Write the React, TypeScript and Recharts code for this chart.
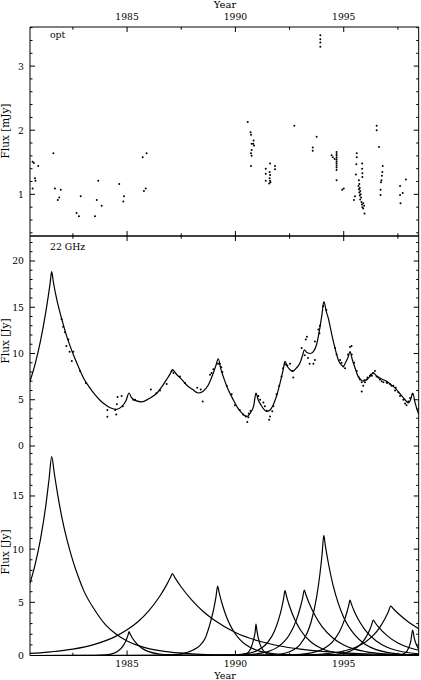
import React from "react";
import { ComposedChart, Line, Scatter, XAxis, YAxis } from "recharts";

const W = 421;
const H = 680;
const FONT = "'DejaVu Serif', 'Liberation Serif', serif";

const yearDomain = [1980.52, 1998.46];
const yearTicks = [1982.5, 1985, 1987.5, 1990, 1992.5, 1995, 1997.5];
const optTicks = [0.4, 0.6, 0.8, 1, 1.2, 1.4, 1.6, 1.8, 2, 2.2, 2.4, 2.6, 2.8, 3, 3.2, 3.4, 3.6];
const radioTicks = [0, 1, 2, 3, 4, 5, 6, 7, 8, 9, 10, 11, 12, 13, 14, 15, 16, 17, 18, 19, 20, 21, 22];
const flareTicks = [0, 1, 2, 3, 4, 5, 6, 7, 8, 9, 10, 11, 12, 13, 14, 15, 16, 17, 18, 19];

// optical flux [mJy]: [year, flux]
const optical = [
  [1980.64, 1.51], [1980.7, 1.49], [1980.9, 1.44], [1980.75, 1.25], [1980.77, 1.21], [1980.64, 1.09],
  [1981.6, 1.64], [1981.67, 1.09], [1981.94, 1.07], [1981.87, 0.95], [1981.8, 0.91],
  [1982.67, 0.71], [1982.78, 0.66], [1982.86, 0.97], [1983.52, 0.66], [1983.6, 0.91],
  [1983.67, 1.21], [1983.83, 0.82], [1984.64, 1.16], [1984.86, 0.97], [1984.83, 0.89],
  [1985.72, 1.58], [1985.9, 1.64], [1985.78, 1.05], [1985.86, 1.09],
  [1990.57, 2.13], [1990.7, 1.97], [1990.72, 1.93], [1990.75, 1.79], [1990.75, 1.69], [1990.72, 1.64],
  [1990.75, 1.6], [1990.72, 1.44], [1990.84, 1.84], [1990.82, 1.79], [1990.86, 1.76],
  [1991.4, 1.4], [1991.4, 1.32], [1991.4, 1.21], [1991.6, 1.48], [1991.58, 1.35], [1991.6, 1.3],
  [1991.58, 1.25], [1991.6, 1.21], [1991.62, 1.19], [1991.56, 1.17], [1991.83, 1.44], [1991.83, 1.39],
  [1992.72, 2.07], [1993.57, 1.73], [1993.57, 1.68], [1993.75, 1.9],
  [1993.92, 3.48], [1993.92, 3.42], [1993.92, 3.37], [1993.92, 3.3],
  [1994.44, 1.61], [1994.5, 1.58], [1994.58, 1.55], [1994.67, 1.66], [1994.67, 1.63], [1994.67, 1.6],
  [1994.67, 1.57], [1994.67, 1.54], [1994.67, 1.51], [1994.67, 1.48], [1994.67, 1.45], [1994.67, 1.42],
  [1994.67, 1.38], [1994.67, 1.22], [1994.93, 1.07], [1995.0, 1.09],
  [1995.47, 0.91], [1995.52, 0.97], [1995.6, 1.64], [1995.6, 1.58], [1995.58, 1.47], [1995.56, 1.31],
  [1995.7, 1.22], [1995.72, 1.16], [1995.74, 1.1], [1995.76, 1.05], [1995.78, 1.0], [1995.68, 1.13],
  [1995.7, 1.08], [1995.72, 1.03], [1995.74, 0.98], [1995.8, 0.95], [1995.76, 0.92], [1995.82, 0.88],
  [1995.84, 0.84], [1995.86, 0.8], [1995.9, 0.78], [1995.96, 0.7], [1995.85, 1.48], [1995.85, 1.4],
  [1995.86, 1.33], [1995.86, 1.27], [1995.9, 0.86], [1995.94, 0.82],
  [1996.52, 2.07], [1996.52, 2.0], [1996.63, 1.74], [1996.8, 1.44], [1996.78, 1.35], [1996.76, 1.29],
  [1996.74, 1.22], [1996.72, 1.19], [1996.7, 1.07], [1996.7, 0.99],
  [1997.6, 1.13], [1997.6, 0.99], [1997.62, 0.86], [1997.72, 1.02], [1997.87, 1.23],
];

// 22 GHz measurements [Jy]
const radio = [
  [1981.98, 13.7], [1982.05, 12.9], [1982.13, 12.3], [1982.29, 11.5], [1982.2, 10.8], [1982.35, 10.2],
  [1982.52, 10.2], [1982.45, 9.2], [1982.83, 8.1], [1983.1, 6.8],
  [1984.09, 3.9], [1984.09, 3.15], [1984.45, 3.9], [1984.5, 3.4], [1984.53, 4.5], [1984.56, 5.3],
  [1984.75, 5.4], [1984.8, 4.3], [1985.29, 5.0], [1985.37, 5.0],
  [1986.1, 6.1], [1986.35, 5.7], [1986.52, 6.0], [1986.83, 6.7], [1987.06, 8.1], [1987.14, 7.9],
  [1987.44, 7.5], [1987.67, 6.8], [1988.24, 6.3], [1988.4, 6.1], [1988.49, 4.8],
  [1988.83, 7.7], [1988.9, 7.9], [1988.98, 8.3], [1989.2, 8.9], [1989.28, 8.9], [1989.35, 8.5],
  [1989.4, 8.0], [1989.6, 6.5], [1989.83, 5.6], [1989.98, 4.4],
  [1990.2, 3.9], [1990.36, 3.4], [1990.48, 3.2], [1990.55, 2.6], [1990.6, 3.1], [1990.62, 3.5],
  [1990.7, 3.8], [1990.95, 5.6], [1991.06, 5.4], [1991.14, 5.0], [1991.29, 4.7], [1991.36, 4.3],
  [1991.44, 3.8], [1991.56, 2.85], [1991.6, 3.2], [1991.7, 3.75], [1991.75, 4.3], [1991.9, 5.6],
  [1992.02, 6.5], [1992.13, 7.5], [1992.2, 8.4], [1992.29, 8.8], [1992.4, 8.7], [1992.52, 8.9],
  [1992.64, 8.1], [1992.67, 7.4],
  [1993.06, 10.6], [1993.25, 11.5], [1993.3, 11.8], [1993.2, 9.8], [1993.35, 9.5], [1993.43, 8.9],
  [1993.6, 8.9], [1993.67, 9.3], [1993.67, 11.3], [1993.83, 12.6], [1993.9, 13.0], [1993.88, 12.2],
  [1994.05, 15.1], [1994.2, 14.7],
  [1994.6, 10.6], [1994.67, 9.9], [1994.83, 9.3], [1994.9, 9.0], [1994.98, 8.6], [1995.06, 8.4],
  [1995.2, 9.9], [1995.29, 10.7], [1995.36, 10.8], [1995.37, 9.9], [1995.48, 9.0], [1995.6, 8.1],
  [1995.7, 7.4], [1995.75, 7.2], [1995.83, 6.9], [1995.9, 6.5], [1995.83, 5.9], [1995.95, 7.1],
  [1995.98, 6.9], [1996.06, 7.2], [1996.1, 7.4], [1996.21, 7.6], [1996.25, 7.7], [1996.3, 7.6],
  [1996.36, 7.9], [1996.44, 8.1], [1996.52, 7.5], [1996.6, 7.4], [1996.67, 7.2], [1996.75, 7.0],
  [1996.83, 6.9], [1996.98, 6.9], [1997.0, 6.8], [1997.13, 6.7], [1997.2, 6.5], [1997.29, 6.5],
  [1997.37, 6.0], [1997.4, 6.3], [1997.52, 5.8], [1997.6, 5.4], [1997.75, 5.0], [1997.83, 4.6],
  [1997.9, 4.4], [1997.98, 4.8], [1998.06, 5.2], [1998.18, 5.6],
];

// model sum at 22 GHz
const radioFit = [
  [1980.52, 7.0], [1980.75, 8.8], [1981.0, 11.3], [1981.25, 14.5], [1981.45, 17.6], [1981.52, 18.85],
  [1981.6, 17.7], [1981.75, 15.9], [1982.0, 13.6], [1982.25, 11.6], [1982.5, 10.0], [1982.75, 8.6],
  [1983.0, 7.3], [1983.25, 6.4], [1983.5, 5.6], [1983.75, 4.95], [1984.0, 4.45], [1984.25, 4.1],
  [1984.5, 3.95], [1984.75, 4.25], [1984.95, 4.9], [1985.09, 5.73], [1985.2, 5.25], [1985.4, 4.9],
  [1985.67, 4.77], [1986.0, 5.1], [1986.37, 5.7], [1986.6, 6.4], [1986.83, 7.2], [1987.0, 7.85],
  [1987.09, 8.25], [1987.3, 7.7], [1987.52, 7.2], [1987.75, 6.6], [1988.0, 6.15], [1988.29, 5.73],
  [1988.5, 5.9], [1988.75, 6.6], [1988.95, 7.7], [1989.1, 8.7], [1989.21, 9.43], [1989.32, 8.4],
  [1989.44, 7.5], [1989.65, 6.2], [1989.9, 5.0], [1990.1, 4.15], [1990.3, 3.55], [1990.52, 3.2],
  [1990.7, 3.6], [1990.85, 4.4], [1990.95, 5.73], [1991.05, 5.0], [1991.2, 4.35], [1991.44, 3.75],
  [1991.6, 3.9], [1991.75, 4.47], [1991.9, 5.4], [1992.06, 6.8], [1992.2, 8.2], [1992.29, 9.14],
  [1992.4, 8.6], [1992.52, 8.25], [1992.65, 8.1], [1992.8, 8.4], [1992.98, 8.97], [1993.1, 9.8],
  [1993.18, 10.4], [1993.3, 10.1], [1993.45, 10.0], [1993.6, 10.2], [1993.75, 11.0], [1993.9, 12.8],
  [1994.0, 14.3], [1994.08, 15.6], [1994.2, 14.5], [1994.29, 13.8], [1994.4, 12.6], [1994.52, 11.3],
  [1994.65, 10.1], [1994.75, 9.3], [1994.88, 8.8], [1994.98, 8.6], [1995.1, 9.1], [1995.2, 9.6],
  [1995.29, 10.2], [1995.4, 9.3], [1995.5, 8.6], [1995.67, 7.5], [1995.8, 7.15], [1995.9, 7.0],
  [1996.05, 7.15], [1996.2, 7.5], [1996.36, 7.9], [1996.5, 7.6], [1996.7, 7.3], [1996.98, 7.0],
  [1997.2, 6.6], [1997.44, 6.1], [1997.65, 5.5], [1997.83, 5.0], [1997.98, 4.65], [1998.1, 5.1],
  [1998.18, 5.73], [1998.3, 4.6], [1998.46, 3.4],
];

// individual flare components [Jy]
const flare1 = [
  [1980.52, 6.8], [1980.75, 8.5], [1981.0, 10.9], [1981.25, 14.1], [1981.4, 16.6], [1981.52, 18.7],
  [1981.65, 17.0], [1981.8, 15.1], [1982.0, 12.9], [1982.25, 10.7], [1982.5, 8.9], [1982.75, 7.4],
  [1983.0, 6.1], [1983.5, 4.3], [1984.0, 2.9], [1984.5, 2.0], [1985.0, 1.37], [1985.5, 0.95],
  [1986.0, 0.65], [1986.5, 0.45], [1987.0, 0.31], [1988.0, 0.15], [1989.0, 0.07], [1990.0, 0.03],
  [1992.0, 0.01], [1998.46, 0],
];
const flare2 = [
  [1980.52, 0], [1983.0, 0.01], [1983.5, 0.02], [1984.0, 0.06], [1984.37, 0.2], [1984.6, 0.45],
  [1984.8, 0.85], [1984.95, 1.4], [1985.04, 1.9], [1985.09, 2.24], [1985.15, 1.99], [1985.25, 1.62],
  [1985.5, 1.0], [1985.75, 0.6], [1986.0, 0.36], [1986.5, 0.14], [1987.0, 0.05], [1988.0, 0.01],
  [1998.46, 0],
];
const flare3 = [
  [1980.52, 0.2], [1981.5, 0.35], [1982.5, 0.6], [1983.5, 1.05], [1984.5, 1.82], [1985.0, 2.41],
  [1985.5, 3.18], [1986.0, 4.2], [1986.5, 5.55], [1986.8, 6.55], [1987.0, 7.33], [1987.09, 7.7],
  [1987.2, 7.34], [1987.5, 6.44], [1988.0, 5.18], [1988.5, 4.16], [1989.0, 3.36], [1990.0, 2.17],
  [1991.0, 1.41], [1992.0, 0.92], [1993.0, 0.6], [1994.0, 0.38], [1995.0, 0.25], [1996.0, 0.16],
  [1997.0, 0.1], [1998.46, 0.05],
];
const flare4 = [
  [1980.52, 0], [1986.0, 0.005], [1987.0, 0.05], [1987.5, 0.16], [1988.0, 0.47], [1988.37, 0.96],
  [1988.6, 1.6], [1988.83, 3.0], [1989.0, 4.38], [1989.1, 5.47], [1989.18, 6.53], [1989.25, 5.91],
  [1989.4, 4.77], [1989.6, 3.58], [1989.9, 2.33], [1990.2, 1.52], [1990.5, 0.99], [1991.0, 0.48],
  [1991.5, 0.24], [1992.0, 0.12], [1993.0, 0.03], [1994.0, 0.01], [1998.46, 0],
];
const flare5 = [
  [1980.52, 0], [1989.5, 0.005], [1990.0, 0.01], [1990.5, 0.18], [1990.7, 0.62], [1990.85, 1.58],
  [1990.91, 2.2], [1990.95, 2.96], [1991.0, 2.24], [1991.1, 1.29], [1991.25, 0.56], [1991.5, 0.14],
  [1992.0, 0.01], [1998.46, 0],
];
const flare6 = [
  [1980.52, 0], [1988.0, 0.001], [1989.0, 0.008], [1990.0, 0.06], [1990.5, 0.17], [1991.0, 0.46],
  [1991.5, 1.25], [1991.8, 2.29], [1992.0, 3.42], [1992.15, 4.6], [1992.22, 5.3], [1992.29, 6.1],
  [1992.36, 5.56], [1992.5, 4.63], [1992.75, 3.33], [1993.0, 2.4], [1993.5, 1.24], [1994.0, 0.64],
  [1994.5, 0.33], [1995.0, 0.17], [1996.0, 0.05], [1997.0, 0.01], [1998.46, 0],
];
const flare7 = [
  [1980.52, 0], [1989.0, 0.006], [1990.0, 0.03], [1990.5, 0.07], [1991.0, 0.16], [1991.5, 0.37],
  [1992.0, 0.86], [1992.5, 1.98], [1992.8, 3.26], [1993.0, 4.56], [1993.1, 5.38], [1993.18, 6.15],
  [1993.25, 5.73], [1993.4, 4.93], [1993.7, 3.66], [1994.0, 2.71], [1994.5, 1.64], [1995.0, 0.99],
  [1995.5, 0.6], [1996.0, 0.37], [1997.0, 0.135], [1998.0, 0.05], [1998.46, 0.03],
];
const flare8 = [
  [1980.52, 0], [1990.0, 0.002], [1991.0, 0.014], [1992.0, 0.12], [1992.5, 0.36], [1993.0, 1.08],
  [1993.3, 2.07], [1993.5, 3.2], [1993.75, 5.52], [1993.9, 7.64], [1994.0, 9.5], [1994.08, 11.3],
  [1994.15, 10.35], [1994.3, 8.58], [1994.5, 6.67], [1994.75, 4.9], [1995.0, 3.58], [1995.5, 1.96],
  [1996.0, 1.03], [1996.5, 0.55], [1997.0, 0.29], [1997.5, 0.15], [1998.0, 0.08], [1998.46, 0.05],
];
const flare9 = [
  [1980.52, 0], [1991.0, 0.003], [1992.0, 0.018], [1993.0, 0.1], [1993.5, 0.24], [1994.0, 0.56],
  [1994.5, 1.33], [1994.8, 2.23], [1995.0, 3.16], [1995.15, 4.09], [1995.22, 4.61], [1995.29, 5.2],
  [1995.36, 4.81], [1995.5, 4.1], [1995.75, 3.12], [1996.0, 2.36], [1996.5, 1.36], [1997.0, 0.78],
  [1997.5, 0.45], [1998.0, 0.26], [1998.46, 0.15],
];
const flare10 = [
  [1980.52, 0], [1992.0, 0.001], [1993.0, 0.005], [1994.0, 0.03], [1994.5, 0.08], [1995.0, 0.22],
  [1995.5, 0.6], [1995.8, 1.09], [1996.0, 1.63], [1996.2, 2.42], [1996.29, 2.9], [1996.36, 3.34],
  [1996.45, 3.08], [1996.6, 2.69], [1997.0, 1.87], [1997.5, 1.18], [1998.0, 0.75], [1998.46, 0.49],
];
const flare11 = [
  [1980.52, 0], [1990.0, 0.002], [1992.0, 0.015], [1993.0, 0.045], [1994.0, 0.14], [1995.0, 0.42],
  [1995.5, 0.73], [1996.0, 1.27], [1996.36, 1.89], [1996.6, 2.46], [1996.9, 3.46], [1997.05, 4.07],
  [1997.17, 4.65], [1997.3, 4.37], [1997.5, 3.97], [1998.0, 3.13], [1998.46, 2.52],
];
const flare12 = [
  [1980.52, 0], [1996.0, 0], [1997.0, 0.001], [1997.5, 0.026], [1997.8, 0.19], [1998.0, 0.73],
  [1998.1, 1.41], [1998.18, 2.4], [1998.25, 1.69], [1998.35, 1.03], [1998.46, 0.59],
];
const flares = [flare1, flare2, flare3, flare4, flare5, flare6, flare7, flare8, flare9, flare10, flare11, flare12];

const pts = (arr: number[][]) => arr.map(([x, y]) => ({ x, y }));

const onStep = (v: number, step: number) => Math.abs(v / step - Math.round(v / step)) < 1e-6;

function XTick(props: any) {
  const { x, y, payload, dir, label } = props;
  const v = payload.value;
  const major = onStep(v, 5);
  const len = major ? 5 : 2.7;
  return (
    <g>
      <line x1={x} x2={x} y1={y} y2={y + dir * len} stroke="#000" strokeWidth={1} />
      {label && major ? (
        <text
          x={x}
          y={label === "top" ? y - 7 : y + 11.3}
          textAnchor="middle"
          fontSize={9.2}
          fontFamily={FONT}
          fill="#000"
        >
          {v}
        </text>
      ) : null}
    </g>
  );
}

function YTick(props: any) {
  const { x, y, payload, side, step } = props;
  const v = payload.value;
  const major = onStep(v, step);
  const len = major ? 5 : 2.5;
  const dir = side === "l" ? 1 : -1;
  return (
    <g>
      <line x1={x} x2={x + dir * len} y1={y} y2={y} stroke="#000" strokeWidth={1} />
      {side === "l" && major ? (
        <text x={x - 6} y={y + 3.4} textAnchor="end" fontSize={9.3} fontFamily={FONT} fill="#000">
          {Math.round(v)}
        </text>
      ) : null}
    </g>
  );
}

type PanelProps = {
  top: number;
  bottom: number;
  yDomain: number[];
  yTicks: number[];
  yStep: number;
  topAxis: "none" | "ticks" | "labels";
  bottomAxis: "none" | "ticks" | "labels";
  children: React.ReactNode;
};

// axes get a 1px band (a zero-size axis is not drawn), margins absorb it
function Panel({ top, bottom, yDomain, yTicks, yStep, topAxis, bottomAxis, children }: PanelProps) {
  const mTop = top - (topAxis === "none" ? 0 : 1);
  const mBottom = H - bottom - (bottomAxis === "none" ? 0 : 1);
  return (
    <div style={{ position: "absolute", left: 0, top: 0 }}>
      <ComposedChart width={W} height={H} margin={{ top: mTop, bottom: mBottom, left: 29, right: 1.3 }}>
        <XAxis
          xAxisId="t"
          orientation="top"
          type="number"
          dataKey="x"
          domain={yearDomain}
          ticks={yearTicks}
          interval={0}
          height={1}
          tickSize={0}
          tickMargin={0}
          tickLine={false}
          allowDataOverflow
          hide={topAxis === "none"}
          axisLine={{ stroke: "#000", strokeWidth: 1 }}
          tick={(p: any) => <XTick {...p} dir={1} label={topAxis === "labels" ? "top" : null} />}
        />
        <XAxis
          xAxisId="b"
          orientation="bottom"
          type="number"
          dataKey="x"
          domain={yearDomain}
          ticks={yearTicks}
          interval={0}
          height={1}
          tickSize={0}
          tickMargin={0}
          tickLine={false}
          allowDataOverflow
          hide={bottomAxis === "none"}
          axisLine={{ stroke: "#000", strokeWidth: 1 }}
          tick={(p: any) => <XTick {...p} dir={-1} label={bottomAxis === "labels" ? "bottom" : null} />}
        />
        <YAxis
          yAxisId="l"
          type="number"
          domain={yDomain}
          ticks={yTicks}
          interval={0}
          width={1}
          tickSize={0}
          tickMargin={0}
          tickLine={false}
          allowDataOverflow
          axisLine={{ stroke: "#000", strokeWidth: 1 }}
          tick={(p: any) => <YTick {...p} side="l" step={yStep} />}
        />
        <YAxis
          yAxisId="r"
          orientation="right"
          type="number"
          domain={yDomain}
          ticks={yTicks}
          interval={0}
          width={1}
          tickSize={0}
          tickMargin={0}
          tickLine={false}
          allowDataOverflow
          axisLine={{ stroke: "#000", strokeWidth: 1 }}
          tick={(p: any) => <YTick {...p} side="r" step={yStep} />}
        />
        {children}
      </ComposedChart>
    </div>
  );
}

const dot = (p: any) => <circle cx={p.cx} cy={p.cy} r={1} fill="#000" />;

export default function App() {
  return (
    <div
      style={{
        position: "absolute",
        left: 0,
        top: 0,
        width: W,
        height: H,
        background: "#fff",
        fontFamily: FONT,
      }}
    >
      <Panel top={27} bottom={236} yDomain={[0.35, 3.61]} yTicks={optTicks} yStep={1} topAxis="labels" bottomAxis="ticks">
        <Scatter
          xAxisId="b"
          yAxisId="l"
          data={pts(optical)}
          dataKey="y"
          shape={dot}
          isAnimationActive={false}
        />
      </Panel>

      <Panel top={236} bottom={446} yDomain={[0, 22.7]} yTicks={radioTicks} yStep={5} topAxis="ticks" bottomAxis="none">
        <Scatter
          xAxisId="t"
          yAxisId="l"
          data={pts(radio)}
          dataKey="y"
          shape={dot}
          isAnimationActive={false}
        />
        <Line
          xAxisId="t"
          yAxisId="l"
          data={pts(radioFit)}
          dataKey="y"
          type="monotone"
          stroke="#000"
          strokeWidth={1.2}
          dot={false}
          isAnimationActive={false}
        />
      </Panel>

      <Panel top={446} bottom={655.5} yDomain={[0, 19.7]} yTicks={flareTicks} yStep={5} topAxis="none" bottomAxis="labels">
        {flares.map((f, i) => (
          <Line
            key={i}
            xAxisId="b"
            yAxisId="l"
            data={pts(f)}
            dataKey="y"
            type="monotone"
            stroke="#000"
            strokeWidth={1.2}
            dot={false}
            isAnimationActive={false}
          />
        ))}
      </Panel>

      <svg width={W} height={H} style={{ position: "absolute", left: 0, top: 0, pointerEvents: "none" }}>
        <g fontFamily={FONT} fill="#000">
          <text x={225} y={7.5} textAnchor="middle" fontSize={10}>Year</text>
          <text x={225} y={678.5} textAnchor="middle" fontSize={9.6}>Year</text>
          <text x={50} y={38} fontSize={9.3}>opt</text>
          <text x={50} y={250} fontSize={9.3}>22 GHz</text>
          <text transform="translate(8.5,131) rotate(-90)" textAnchor="middle" fontSize={10.5}>Flux [mJy]</text>
          <text transform="translate(8.5,341) rotate(-90)" textAnchor="middle" fontSize={10.5}>Flux [Jy]</text>
          <text transform="translate(8.5,552) rotate(-90)" textAnchor="middle" fontSize={10.5}>Flux [Jy]</text>
        </g>
      </svg>
    </div>
  );
}
